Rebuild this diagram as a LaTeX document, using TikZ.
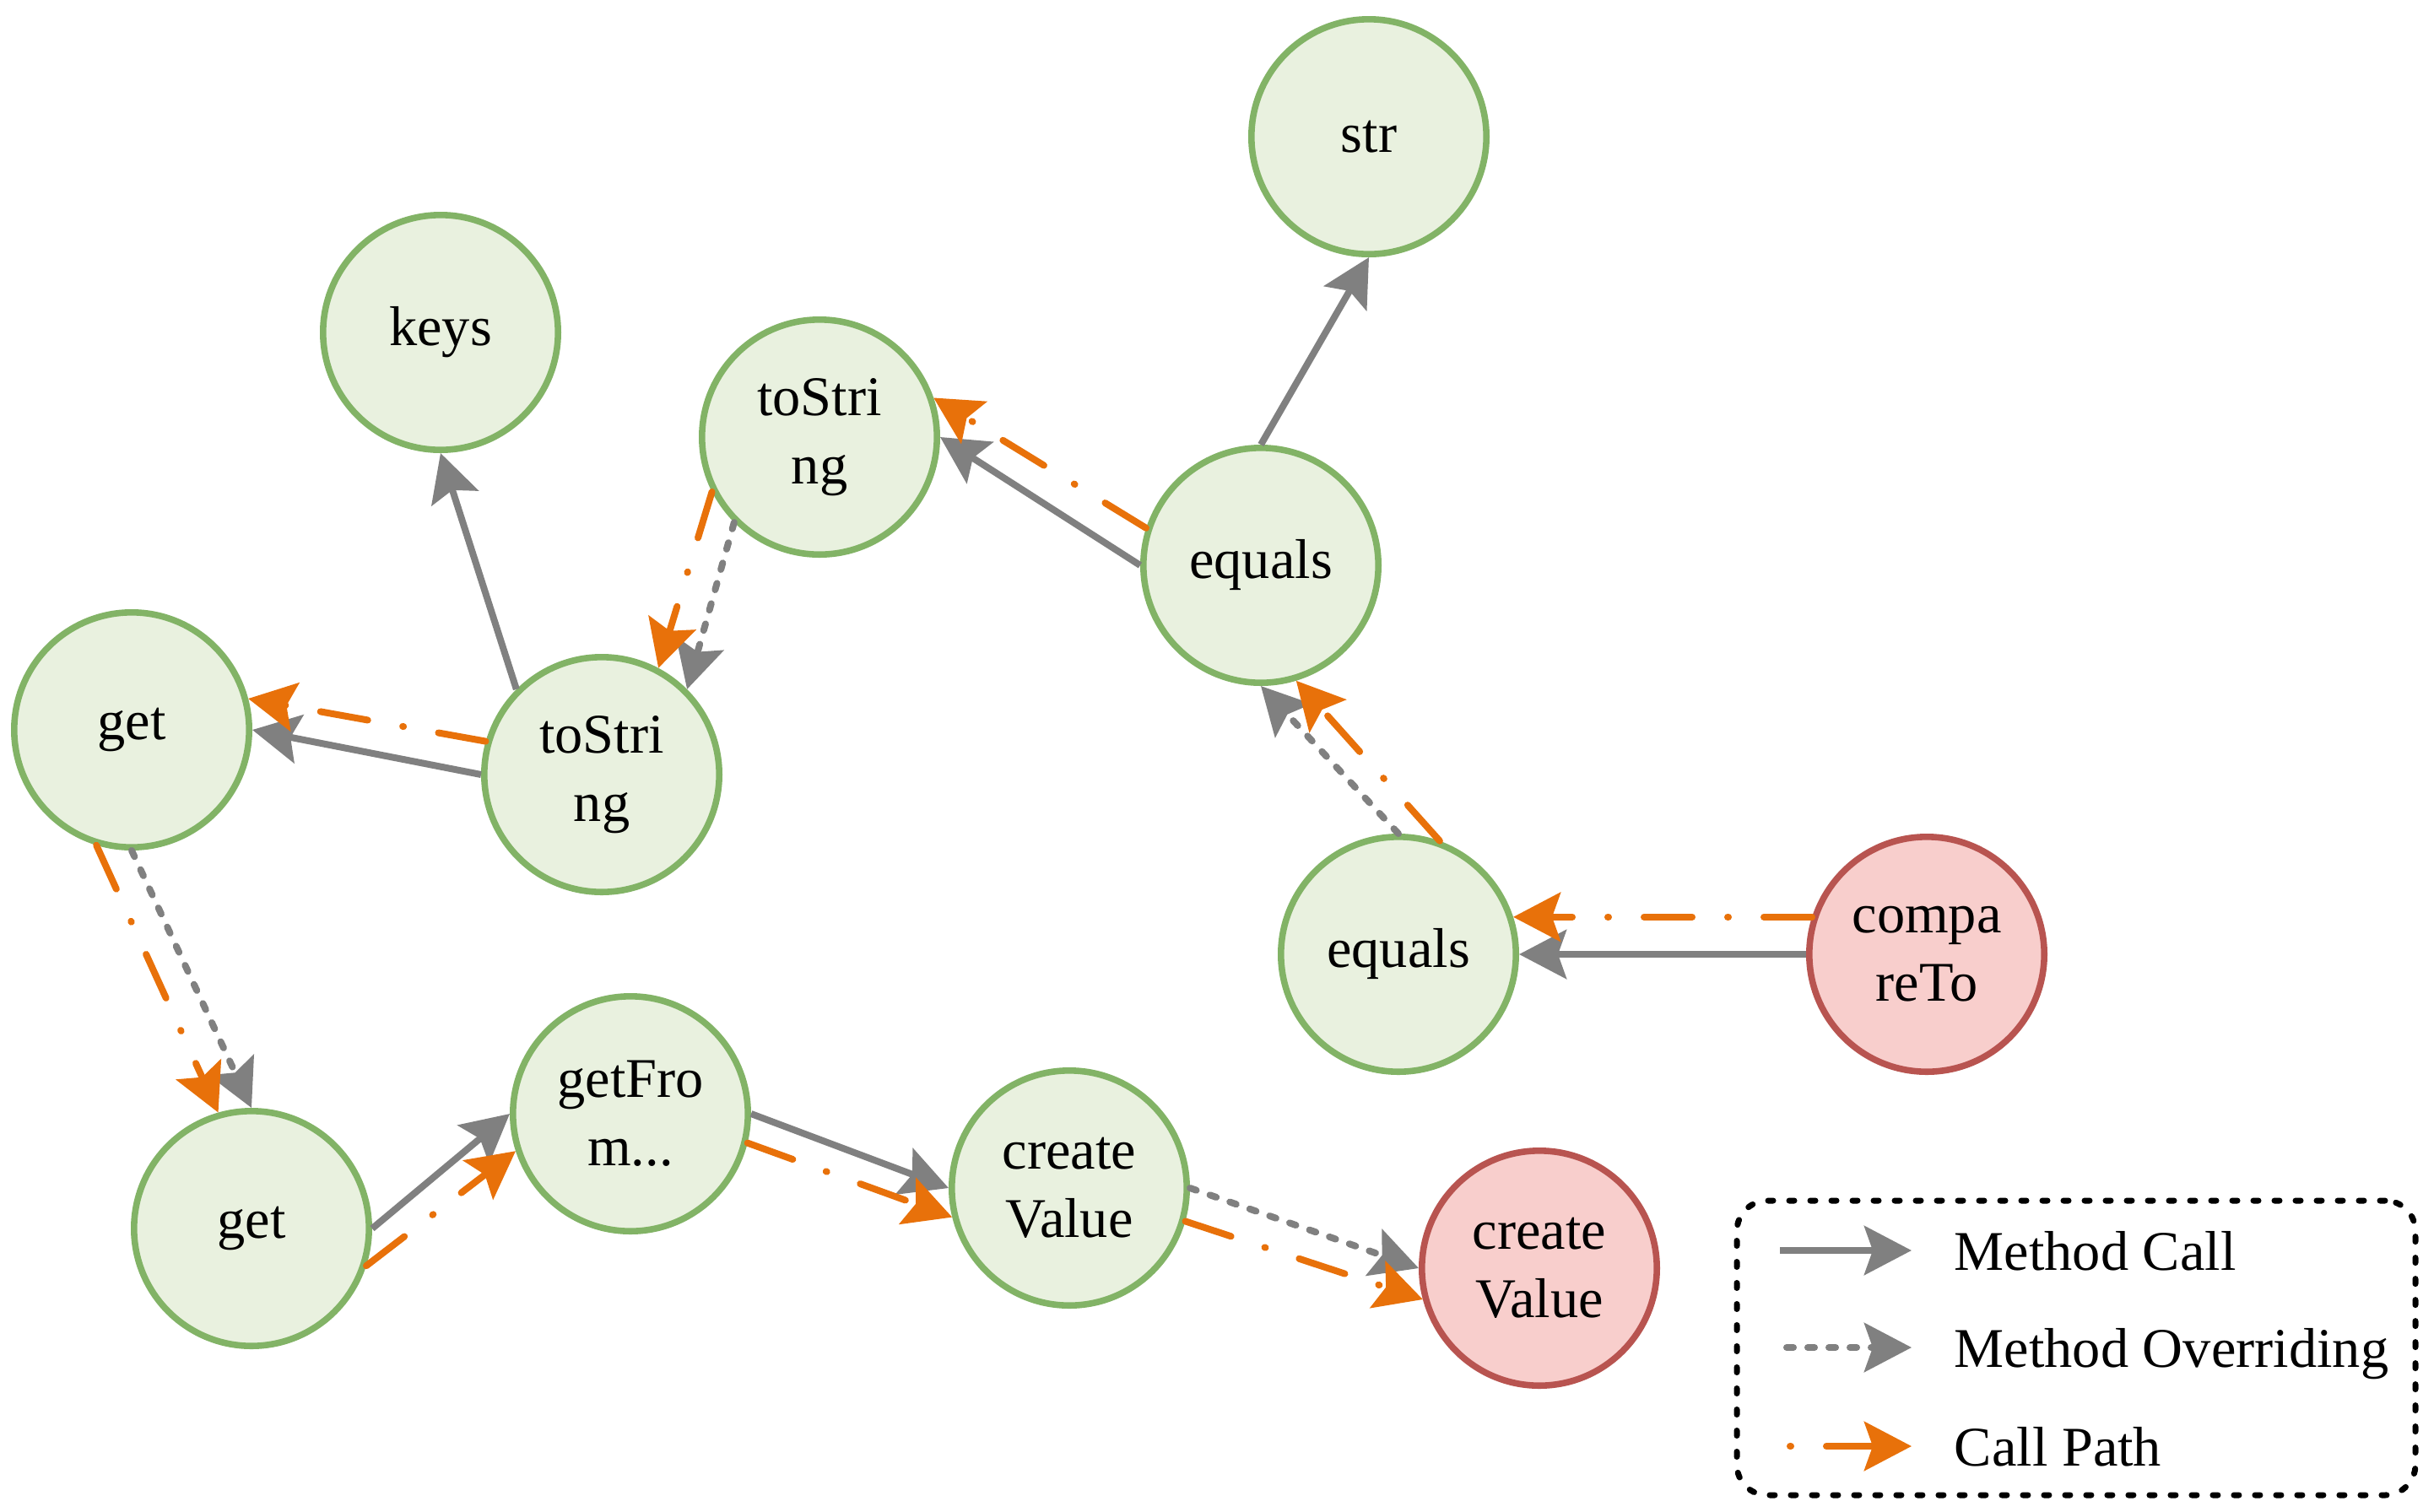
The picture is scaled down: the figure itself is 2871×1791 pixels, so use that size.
\documentclass[tikz,border=0pt]{standalone}
\usepackage{fontspec}
\setmainfont{Liberation Serif}
\usetikzlibrary{arrows.meta}
\definecolor{gfill}{HTML}{E9F1DF}
\definecolor{gline}{HTML}{82B366}
\definecolor{rfill}{HTML}{F8CECC}
\definecolor{rline}{HTML}{B85450}
\definecolor{arrgray}{HTML}{808080}
\definecolor{corange}{HTML}{E8710A}
\begin{document}
\begin{tikzpicture}[x=0.25pt,y=-0.25pt,
  every node/.style={font=\fontsize{16.6pt}{20.25pt}\selectfont},
  gnode/.style={circle,draw=gline,fill=gfill,line width=1.9pt,minimum size=69.6pt,inner sep=0pt,align=center},
  rnode/.style={gnode,draw=rline,fill=rfill},
  tipstyle/.style={-{Stealth[length=14pt,width=14.5pt,inset=2.5pt]}},
  mcall/.style={draw=arrgray,line width=2pt,tipstyle},
  mover/.style={draw=arrgray,line width=2pt,line cap=round,dash pattern=on 2pt off 4.25pt,tipstyle},
  cpath/.style={draw=corange,line width=2pt,line cap=round,dash pattern=on 14.25pt off 10.5pt on 0.25pt off 10.5pt,tipstyle},
  legendbox/.style={draw=black,line width=1.75pt,line cap=round,dash pattern=on 1.5pt off 4.75pt,rounded corners=9pt,inner sep=0pt},
  legtext/.style={anchor=base west,inner sep=0pt}
]
\useasboundingbox (0,0) rectangle (2871,1791);

% nodes
\node[gnode] (str)  at (1622,162)  {str};
\node[gnode] (keys) at (522,394)   {keys};
\node[gnode] (t1)   at (971,518)   {toStri\\ng};
\node[gnode] (e1)   at (1494,670)  {equals};
\node[gnode] (g1)   at (156,865)   {get};
\node[gnode] (t2)   at (713,918)   {toStri\\ng};
\node[gnode] (e2)   at (1657,1131) {equals};
\node[rnode] (c)    at (2283,1131) {compa\\reTo};
\node[gnode] (g2)   at (298,1456)  {get};
\node[gnode] (f)    at (747,1320)  {getFro\\m...};
\node[gnode] (v1)   at (1267,1408) {create\\Value};
\node[rnode] (v2)   at (1824,1503) {create\\Value};

% edges
\draw[mcall] (e1.90) -- (str.270);
\draw[mcall] (e1.180) -- (t1.0);
\draw[cpath] (e1.162) -- (t1.19);
\draw[mover] (t1.225) -- (t2.45);
\draw[cpath] (t1.207) -- (t2.62);
\draw[mcall] (t2.135) -- (keys.270);
\draw[mcall] (t2.180) -- (g1.0);
\draw[cpath] (t2.164) -- (g1.15);
\draw[mover] (g1.270) -- (g2.90);
\draw[cpath] (g1.253) -- (g2.106);
\draw[mcall] (g2.0) -- (f.180);
\draw[cpath] (g2.342) -- (f.198);
\draw[mcall] (f.0) -- (v1.180);
\draw[cpath] (f.346) -- (v1.194);
\draw[mover] (v1.0) -- (v2.180);
\draw[cpath] (v1.344) -- (v2.195);
\draw[mover] (e2.90) -- (e1.270);
\draw[cpath] (e2.70) -- (e1.287);
\draw[mcall] (c.180) -- (e2.0);
\draw[cpath] (c.162) -- (e2.18);

% legend
\node[legendbox,minimum width=201pt,minimum height=87.25pt] (legend) at (2460,1597.5) {};
\coordinate (la1) at (2109,1482);
\coordinate (lb1) at (2265,1482);
\coordinate (la2) at (2117,1597);
\coordinate (lb2) at (2265,1597);
\coordinate (la3) at (2121,1714);
\coordinate (lb3) at (2265,1714);
\draw[mcall] (la1) -- (lb1);
\draw[mover] (la2) -- (lb2);
\draw[cpath,dash pattern=on 14.25pt off 10.5pt on 0.25pt off 10.5pt,dash phase=24.75pt] (la3) -- (lb3);
\node[legtext] (lt1) at (2315,1505) {Method Call};
\node[legtext] (lt2) at (2315,1620) {Method Overriding};
\node[legtext] (lt3) at (2315,1737) {Call Path};
\end{tikzpicture}
\end{document}
